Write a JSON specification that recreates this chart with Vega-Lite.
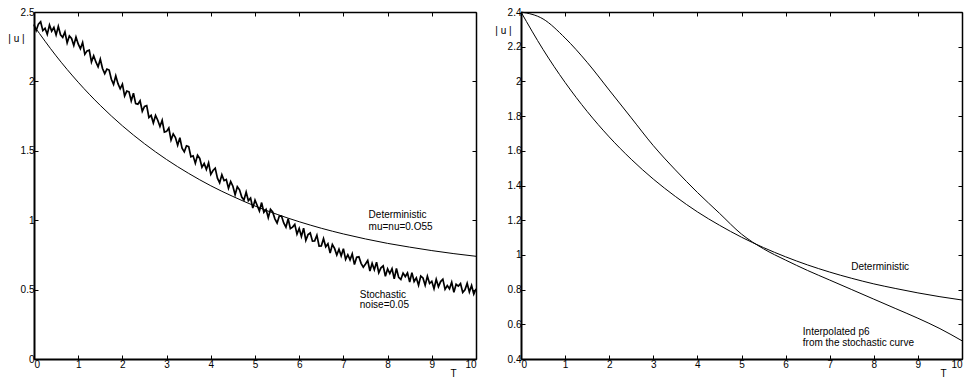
{
"$schema": "https://vega.github.io/schema/vega-lite/v6.json",
"padding": {"left": 7, "top": 7, "right": 0, "bottom": 0},
"bounds": "flush",
"spacing": 45,
"config": {
  "view": {"stroke": null},
  "axis": {"grid": false, "labelFont": "Liberation Sans", "labelFontSize": 10, "labelColor": "black", "tickColor": "black", "domainColor": "black", "tickSize": -4, "tickWidth": 1, "labelPadding": 4, "titleFont": "Liberation Sans", "titleFontSize": 10, "titleFontWeight": "normal", "titleColor": "black"},
  "text": {"font": "Liberation Sans", "fontSize": 10, "color": "black"}
},
"datasets": {
  "det": [
    {"T":0,"u":2.4},{"T":0.5,"u":2.184},{"T":1,"u":1.994},{"T":1.5,"u":1.827},{"T":2,"u":1.68},{"T":2.5,"u":1.551},{"T":3,"u":1.437},{"T":3.5,"u":1.337},{"T":4,"u":1.248},{"T":4.5,"u":1.171},{"T":5,"u":1.102},{"T":5.5,"u":1.042},{"T":6,"u":0.989},{"T":6.5,"u":0.942},{"T":7,"u":0.901},{"T":7.5,"u":0.865},{"T":8,"u":0.833},{"T":8.5,"u":0.806},{"T":9,"u":0.781},{"T":9.5,"u":0.759},{"T":10,"u":0.74}
  ],
  "interp": [
    {"T":0,"u":2.4},{"T":0.5,"u":2.36},{"T":1,"u":2.25},{"T":1.5,"u":2.11},{"T":2,"u":1.95},{"T":2.5,"u":1.79},{"T":3,"u":1.63},{"T":3.5,"u":1.49},{"T":4,"u":1.36},{"T":4.5,"u":1.24},{"T":5,"u":1.12},{"T":5.5,"u":1.035},{"T":6,"u":0.97},{"T":6.5,"u":0.91},{"T":7,"u":0.855},{"T":7.5,"u":0.8},{"T":8,"u":0.745},{"T":8.5,"u":0.69},{"T":9,"u":0.635},{"T":9.5,"u":0.575},{"T":10,"u":0.505}
  ],
  "noisy": [
    {"T":0,"u":2.41},{"T":0.05,"u":2.367},{"T":0.1,"u":2.413},{"T":0.15,"u":2.43},{"T":0.2,"u":2.366},{"T":0.25,"u":2.383},{"T":0.3,"u":2.339},{"T":0.35,"u":2.406},{"T":0.4,"u":2.362},{"T":0.45,"u":2.389},
    {"T":0.5,"u":2.335},{"T":0.55,"u":2.396},{"T":0.6,"u":2.336},{"T":0.65,"u":2.317},{"T":0.7,"u":2.357},{"T":0.75,"u":2.278},{"T":0.8,"u":2.328},{"T":0.85,"u":2.309},{"T":0.9,"u":2.259},{"T":0.95,"u":2.32},
    {"T":1,"u":2.27},{"T":1.05,"u":2.235},{"T":1.1,"u":2.28},{"T":1.15,"u":2.195},{"T":1.2,"u":2.22},{"T":1.25,"u":2.225},{"T":1.3,"u":2.14},{"T":1.35,"u":2.185},{"T":1.4,"u":2.14},{"T":1.45,"u":2.105},
    {"T":1.5,"u":2.16},{"T":1.55,"u":2.093},{"T":1.6,"u":2.056},{"T":1.65,"u":2.089},{"T":1.7,"u":2.082},{"T":1.75,"u":2.015},{"T":1.8,"u":1.978},{"T":1.85,"u":2.041},{"T":1.9,"u":1.984},{"T":1.95,"u":1.947},
    {"T":2,"u":1.98},{"T":2.05,"u":1.895},{"T":2.1,"u":1.93},{"T":2.15,"u":1.925},{"T":2.2,"u":1.86},{"T":2.25,"u":1.915},{"T":2.3,"u":1.84},{"T":2.35,"u":1.835},{"T":2.4,"u":1.86},{"T":2.45,"u":1.785},
    {"T":2.5,"u":1.82},{"T":2.55,"u":1.825},{"T":2.6,"u":1.74},{"T":2.65,"u":1.755},{"T":2.7,"u":1.7},{"T":2.75,"u":1.755},{"T":2.8,"u":1.72},{"T":2.85,"u":1.675},{"T":2.9,"u":1.72},{"T":2.95,"u":1.635},
    {"T":3,"u":1.64},{"T":3.05,"u":1.664},{"T":3.1,"u":1.578},{"T":3.15,"u":1.622},{"T":3.2,"u":1.596},{"T":3.25,"u":1.54},{"T":3.3,"u":1.594},{"T":3.35,"u":1.518},{"T":3.4,"u":1.492},{"T":3.45,"u":1.536},
    {"T":3.5,"u":1.53},{"T":3.55,"u":1.457},{"T":3.6,"u":1.464},{"T":3.65,"u":1.411},{"T":3.7,"u":1.468},{"T":3.75,"u":1.445},{"T":3.8,"u":1.382},{"T":3.85,"u":1.409},{"T":3.9,"u":1.366},{"T":3.95,"u":1.413},
    {"T":4,"u":1.33},{"T":4.05,"u":1.358},{"T":4.1,"u":1.375},{"T":4.15,"u":1.303},{"T":4.2,"u":1.27},{"T":4.25,"u":1.328},{"T":4.3,"u":1.285},{"T":4.35,"u":1.293},{"T":4.4,"u":1.23},{"T":4.45,"u":1.278},
    {"T":4.5,"u":1.245},{"T":4.55,"u":1.183},{"T":4.6,"u":1.241},{"T":4.65,"u":1.219},{"T":4.7,"u":1.167},{"T":4.75,"u":1.145},{"T":4.8,"u":1.203},{"T":4.85,"u":1.141},{"T":4.9,"u":1.159},{"T":4.95,"u":1.087},
    {"T":5,"u":1.145},{"T":5.05,"u":1.106},{"T":5.1,"u":1.066},{"T":5.15,"u":1.127},{"T":5.2,"u":1.057},{"T":5.25,"u":1.078},{"T":5.3,"u":1.018},{"T":5.35,"u":1.079},{"T":5.4,"u":1.059},{"T":5.45,"u":1.01},
    {"T":5.5,"u":0.98},{"T":5.55,"u":1.03},{"T":5.6,"u":1.03},{"T":5.65,"u":0.98},{"T":5.7,"u":0.95},{"T":5.75,"u":1.01},{"T":5.8,"u":0.94},{"T":5.85,"u":0.95},{"T":5.9,"u":0.97},{"T":5.95,"u":0.9},
    {"T":6,"u":0.94},{"T":6.05,"u":0.882},{"T":6.1,"u":0.943},{"T":6.15,"u":0.855},{"T":6.2,"u":0.896},{"T":6.25,"u":0.908},{"T":6.3,"u":0.849},{"T":6.35,"u":0.851},{"T":6.4,"u":0.892},{"T":6.45,"u":0.814},
    {"T":6.5,"u":0.815},{"T":6.55,"u":0.867},{"T":6.6,"u":0.809},{"T":6.65,"u":0.831},{"T":6.7,"u":0.763},{"T":6.75,"u":0.825},{"T":6.8,"u":0.797},{"T":6.85,"u":0.749},{"T":6.9,"u":0.791},{"T":6.95,"u":0.743},
    {"T":7,"u":0.795},{"T":7.05,"u":0.718},{"T":7.1,"u":0.751},{"T":7.15,"u":0.714},{"T":7.2,"u":0.757},{"T":7.25,"u":0.68},{"T":7.3,"u":0.733},{"T":7.35,"u":0.736},{"T":7.4,"u":0.689},{"T":7.45,"u":0.662},
    {"T":7.5,"u":0.685},{"T":7.55,"u":0.71},{"T":7.6,"u":0.634},{"T":7.65,"u":0.689},{"T":7.7,"u":0.643},{"T":7.75,"u":0.698},{"T":7.8,"u":0.622},{"T":7.85,"u":0.657},{"T":7.9,"u":0.671},{"T":7.95,"u":0.596},
    {"T":8,"u":0.65},{"T":8.05,"u":0.616},{"T":8.1,"u":0.651},{"T":8.15,"u":0.577},{"T":8.2,"u":0.652},{"T":8.25,"u":0.588},{"T":8.3,"u":0.573},{"T":8.35,"u":0.619},{"T":8.4,"u":0.594},{"T":8.45,"u":0.62},
    {"T":8.5,"u":0.555},{"T":8.55,"u":0.622},{"T":8.6,"u":0.558},{"T":8.65,"u":0.585},{"T":8.7,"u":0.531},{"T":8.75,"u":0.598},{"T":8.8,"u":0.584},{"T":8.85,"u":0.531},{"T":8.9,"u":0.597},{"T":8.95,"u":0.544},
    {"T":9,"u":0.56},{"T":9.05,"u":0.507},{"T":9.1,"u":0.574},{"T":9.15,"u":0.521},{"T":9.2,"u":0.558},{"T":9.25,"u":0.575},{"T":9.3,"u":0.502},{"T":9.35,"u":0.529},{"T":9.4,"u":0.506},{"T":9.45,"u":0.553},
    {"T":9.5,"u":0.48},{"T":9.55,"u":0.538},{"T":9.6,"u":0.525},{"T":9.65,"u":0.543},{"T":9.7,"u":0.48},{"T":9.75,"u":0.498},{"T":9.8,"u":0.545},{"T":9.85,"u":0.483},{"T":9.9,"u":0.53},{"T":9.95,"u":0.468},{"T":10,"u":0.505}
  ],
  "lab1": [
    {"T":7.57,"u":1.035,"label":"Deterministic"},
    {"T":7.57,"u":0.953,"label":"mu=nu=0.O55"},
    {"T":7.37,"u":0.461,"label":"Stochastic"},
    {"T":7.37,"u":0.387,"label":"noise=0.05"}
  ],
  "lab2": [
    {"T":7.49,"u":0.9285,"label":"Deterministic"},
    {"T":6.39,"u":0.557,"label":"Interpolated p6"},
    {"T":6.39,"u":0.494,"label":"from the stochastic curve"}
  ]
},
"hconcat": [
  {
    "width": 442, "height": 347,
    "resolve": {"axis": {"x": "independent", "y": "independent"}},
    "layer": [
      {
        "data": {"name": "det"},
        "mark": {"type": "line", "color": "black", "strokeWidth": 1, "interpolate": "monotone"},
        "encoding": {
          "x": {"field": "T", "type": "quantitative", "scale": {"domain": [0, 10], "nice": false, "zero": false},
                "axis": {"orient": "bottom", "values": [0,1,2,3,4,5,6,7,8,9,10], "domainWidth": 2, "title": "T", "titleX": 419, "titleY": 14, "titleAlign": "center", "titleBaseline": "middle"}},
          "y": {"field": "u", "type": "quantitative", "scale": {"domain": [0, 2.5], "nice": false, "zero": false},
                "axis": {"orient": "left", "values": [0,0.5,1,1.5,2,2.5], "format": "~g", "domainWidth": 2, "title": "| u |", "titleAngle": 0, "titleX": -18, "titleY": 26, "titleAlign": "center", "titleBaseline": "middle"}}
        }
      },
      {
        "data": {"name": "noisy"},
        "mark": {"type": "line", "color": "black", "strokeWidth": 1.7},
        "encoding": {
          "x": {"field": "T", "type": "quantitative", "axis": null},
          "y": {"field": "u", "type": "quantitative", "axis": null}
        }
      },
      {
        "data": {"name": "lab1"},
        "mark": {"type": "text", "align": "left", "baseline": "middle"},
        "encoding": {
          "x": {"field": "T", "type": "quantitative", "axis": {"orient": "top", "values": [0,1,2,3,4,5,6,7,8,9,10], "labels": false, "title": null, "domainWidth": 1.5}},
          "y": {"field": "u", "type": "quantitative", "axis": {"orient": "right", "values": [0,0.5,1,1.5,2,2.5], "labels": false, "title": null, "domainWidth": 1.5}},
          "text": {"field": "label"}
        }
      },
      {
        "mark": {"type": "point", "shape": "triangle-up", "filled": true, "color": "black", "size": 30, "opacity": 1},
        "encoding": {"x": {"datum": 0, "type": "quantitative", "axis": null}, "y": {"datum": 2.5, "type": "quantitative", "axis": null}}
      },
      {
        "mark": {"type": "point", "shape": "triangle-right", "filled": true, "color": "black", "size": 30, "opacity": 1},
        "encoding": {"x": {"datum": 10, "type": "quantitative", "axis": null}, "y": {"datum": 0, "type": "quantitative", "axis": null}}
      }
    ]
  },
  {
    "width": 441, "height": 347,
    "resolve": {"axis": {"x": "independent", "y": "independent"}},
    "layer": [
      {
        "data": {"name": "det"},
        "mark": {"type": "line", "color": "black", "strokeWidth": 1, "interpolate": "monotone"},
        "encoding": {
          "x": {"field": "T", "type": "quantitative", "scale": {"domain": [0, 10], "nice": false, "zero": false},
                "axis": {"orient": "bottom", "values": [0,1,2,3,4,5,6,7,8,9,10], "domainWidth": 2, "title": "T", "titleX": 422, "titleY": 14, "titleAlign": "center", "titleBaseline": "middle"}},
          "y": {"field": "u", "type": "quantitative", "scale": {"domain": [0.4, 2.4], "nice": false, "zero": false},
                "axis": {"orient": "left", "values": [0.4,0.6,0.8,1,1.2,1.4,1.6,1.8,2,2.2,2.4], "format": "~g", "domainWidth": 2, "title": "| u |", "titleAngle": 0, "titleX": -18, "titleY": 18, "titleAlign": "center", "titleBaseline": "middle"}}
        }
      },
      {
        "data": {"name": "interp"},
        "mark": {"type": "line", "color": "black", "strokeWidth": 1, "interpolate": "monotone"},
        "encoding": {
          "x": {"field": "T", "type": "quantitative", "axis": null},
          "y": {"field": "u", "type": "quantitative", "axis": null}
        }
      },
      {
        "data": {"name": "lab2"},
        "mark": {"type": "text", "align": "left", "baseline": "middle"},
        "encoding": {
          "x": {"field": "T", "type": "quantitative", "axis": {"orient": "top", "values": [0,1,2,3,4,5,6,7,8,9,10], "labels": false, "title": null, "domainWidth": 1.5}},
          "y": {"field": "u", "type": "quantitative", "axis": {"orient": "right", "values": [0.4,0.6,0.8,1,1.2,1.4,1.6,1.8,2,2.2,2.4], "labels": false, "title": null, "domainWidth": 1.5}},
          "text": {"field": "label"}
        }
      },
      {
        "mark": {"type": "point", "shape": "triangle-up", "filled": true, "color": "black", "size": 30, "opacity": 1},
        "encoding": {"x": {"datum": 0, "type": "quantitative", "axis": null}, "y": {"datum": 2.4, "type": "quantitative", "axis": null}}
      },
      {
        "mark": {"type": "point", "shape": "triangle-right", "filled": true, "color": "black", "size": 30, "opacity": 1},
        "encoding": {"x": {"datum": 10, "type": "quantitative", "axis": null}, "y": {"datum": 0.4, "type": "quantitative", "axis": null}}
      }
    ]
  }
]
}
